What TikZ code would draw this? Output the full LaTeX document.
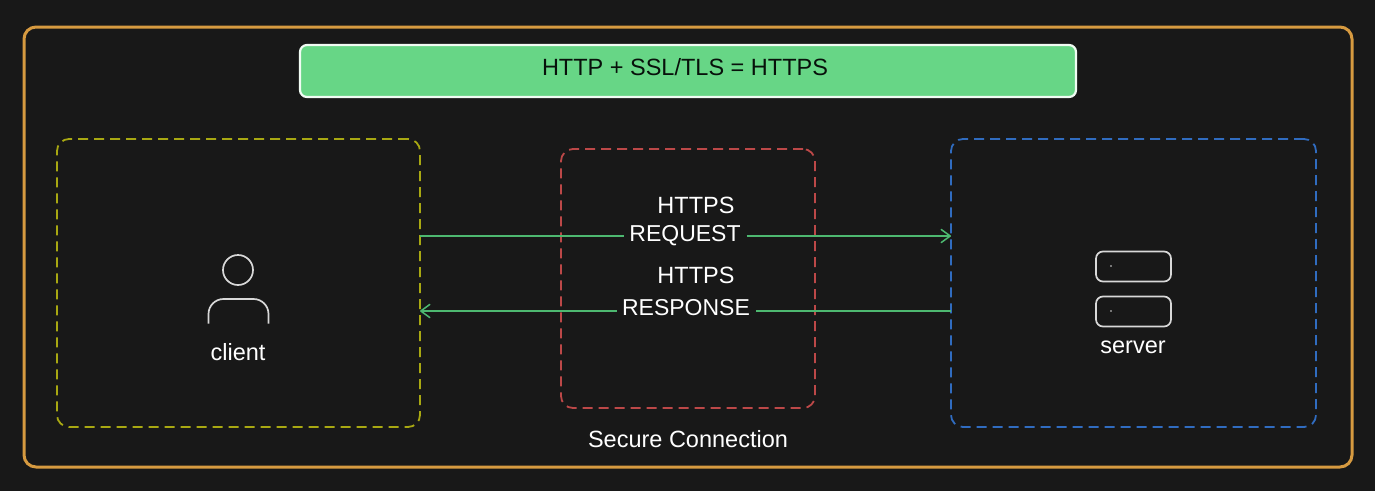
\documentclass[tikz,border=0pt]{standalone}
\usepackage{fontspec}
\setmainfont{Liberation Sans}
\usetikzlibrary{arrows.meta}
\definecolor{bgc}{HTML}{181818}
\definecolor{outerc}{HTML}{D69A40}
\definecolor{titlec}{HTML}{67D686}
\definecolor{yellowc}{HTML}{A8A812}
\definecolor{redc}{HTML}{BC4848}
\definecolor{bluec}{HTML}{306CC0}
\definecolor{linec}{HTML}{4DB870}
\definecolor{iconc}{HTML}{D8D8D8}
\tikzset{
  x=1pt,y=-1pt,
  boxbase/.style={rectangle,inner sep=0pt,outer sep=0pt,anchor=north west},
  dashbox/.style={boxbase,draw=#1,line width=1.8pt,rounded corners=12pt,dash pattern=on 10pt off 6pt},
  lbl/.style={text=white,inner sep=0pt,outer sep=0pt,font=\fontsize{23.5}{28}\selectfont},
  flow/.style={draw=linec,line width=1.8pt},
  flowtip/.style={-{Straight Barb[length=9pt,width=13pt,line width=1.5pt,round]}},
  icon/.style={draw=iconc,line width=1.7pt},
}
\begin{document}
\begin{tikzpicture}
\useasboundingbox[fill=bgc] (0,0) rectangle (1375,491);
\node[boxbase,draw=outerc,line width=3pt,rounded corners=12pt,minimum width=1328pt,minimum height=440pt] (outer) at (24,27) {};
\node[boxbase,draw=white!90!titlec,fill=titlec,line width=2.2pt,rounded corners=7pt,minimum width=776pt,minimum height=52pt] (title) at (300,45) {};
\node[lbl,text=black!92!titlec] (titletext) at (685,67) {HTTP + SSL/TLS = HTTPS};
\node[dashbox=yellowc,minimum width=363pt,minimum height=288pt] (client) at (57,139) {};
\node[dashbox=redc,minimum width=254pt,minimum height=259pt] (secure) at (561,149) {};
\node[dashbox=bluec,minimum width=365pt,minimum height=288pt] (server) at (951,139) {};
\node[lbl] (securetext) at (688,439) {Secure Connection};
\node[lbl] (clienttext) at (238,352) {client};
\node[lbl] (servertext) at (1133,347) {server};
\node[lbl] (req1) at (696,205) {HTTPS};
\node[lbl,minimum width=123pt,fill=bgc,font=\fontsize{23}{28}\selectfont] (req2) at (685,236) {REQUEST};
\node[lbl] (res1) at (696,275) {HTTPS};
\node[lbl,minimum width=139pt,fill=bgc,font=\fontsize{23}{28}\selectfont] (res2) at (686,308) {RESPONSE};
\coordinate (rq) at (0,236);
\coordinate (rs) at (0,311);
\draw[flow] (client.east |- rq) -- (req2.west |- rq);
\draw[flow,flowtip] (req2.east |- rq) -- (server.west |- rq);
\draw[flow] (server.west |- rs) -- (res2.east |- rs);
\draw[flow,flowtip] (res2.west |- rs) -- (client.east |- rs);
% client icon
\node[circle,icon,inner sep=0pt,minimum size=30pt] (head) at (238,270) {};
\draw[icon,rounded corners=15pt] (208.5,323.5) -- (208.5,299) -- (268.5,299) -- (268.5,323.5);
% server icon
\node[boxbase,icon,rounded corners=7pt,minimum width=75pt,minimum height=30pt] (rack1) at (1096,251.5) {};
\node[boxbase,icon,rounded corners=7pt,minimum width=75pt,minimum height=30pt] (rack2) at (1096,296.5) {};
\fill[iconc] (1111,266) circle (0.8pt) (1111,311) circle (0.8pt);
\end{tikzpicture}
\end{document}
